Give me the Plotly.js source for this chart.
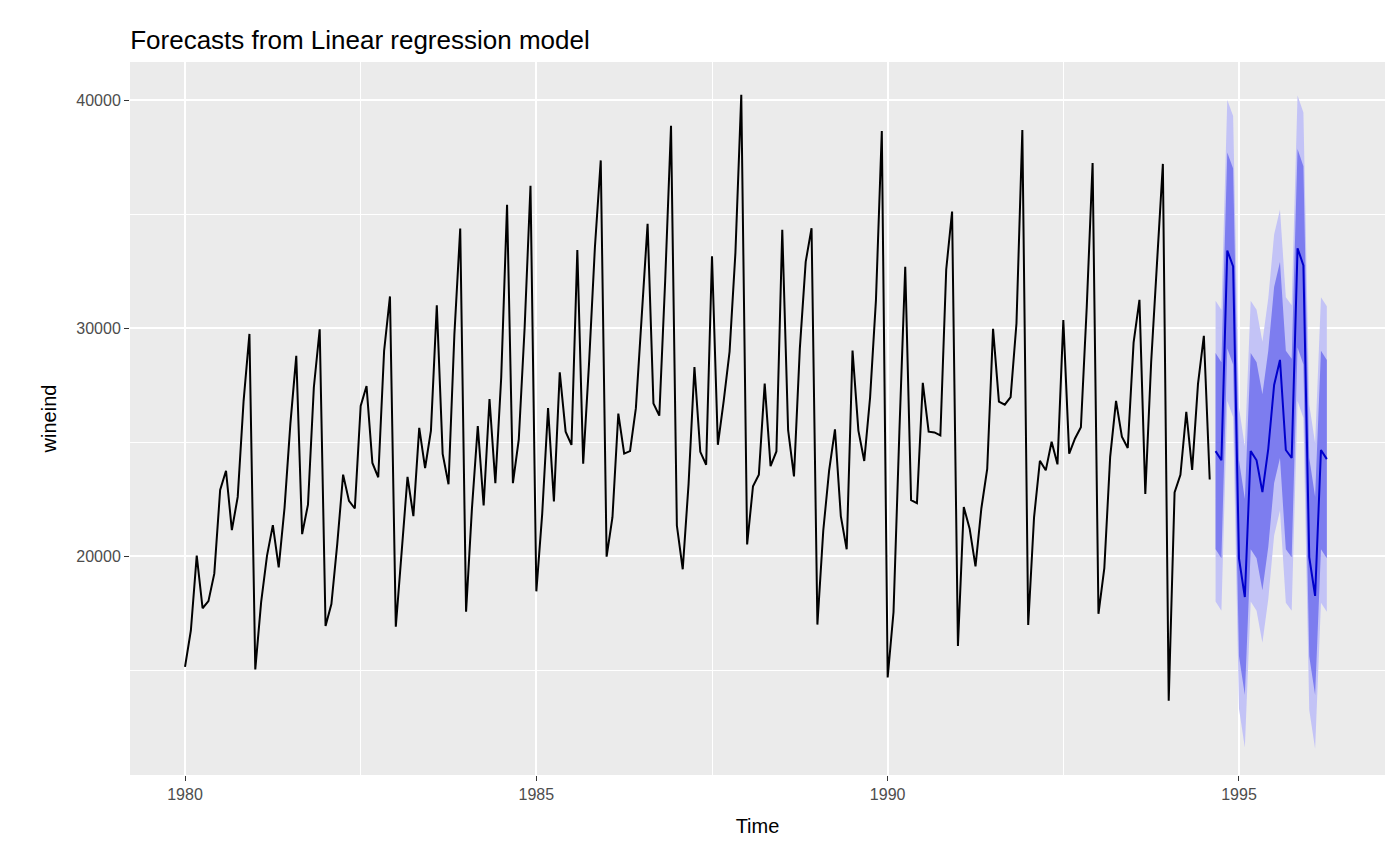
<!DOCTYPE html>
<html>
<head>
<meta charset="utf-8">
<script src="https://cdn.plot.ly/plotly-3.0.1.min.js"></script>
<style>html,body{margin:0;padding:0;background:#fff}#chart{width:1400px;height:866px}</style>
</head>
<body>
<div id="chart"></div>
<script>
// wineind, monthly, Jan 1980 – Aug 1994
const START_YEAR = 1980;
const wineind = [
  15136,16733,20016,17708,18019,19227,22893,23739,21133,22591,26786,29740,
  15028,17977,20008,21354,19498,22125,25817,28779,20960,22254,27392,29945,
  16933,17892,20533,23569,22417,22084,26580,27454,24081,23451,28991,31386,
  16896,20045,23471,21747,25621,23859,25500,30998,24475,23145,29701,34365,
  17556,22077,25702,22214,26886,23191,27831,35406,23195,25110,30009,36242,
  18450,21845,26488,22394,28057,25451,24872,33424,24052,28449,33533,37351,
  19969,21701,26249,24493,24603,26485,30723,34569,26689,26157,32064,38870,
  21337,19419,23166,28286,24570,24001,33151,24878,26804,28967,33311,40226,
  20504,23060,23562,27562,23940,24584,34303,25517,23494,29095,32903,34379,
  16991,21109,23740,25552,21752,20294,29009,25500,24166,26960,31222,38641,
  14672,17543,25453,32683,22449,22316,27595,25451,25421,25288,32568,35110,
  16052,22146,21198,19543,22084,23816,29961,26773,26635,26972,30207,38687,
  16974,21697,24179,23757,25013,24019,30345,24488,25156,25650,30923,37240,
  17466,19463,24352,26805,25236,24735,29356,31234,22724,28496,32857,37198,
  13652,22784,23565,26323,23779,27549,29660,23356
];

// forecasts Sep 1994 – Apr 1996
const fcMean = [24600,24200,33400,32700,19900,18200,24600,24200,22800,24700,27500,28600,
                24650,24300,33500,32750,19950,18250,24650,24250];
const fcLo80 = [20300,19900,29100,28400,15600,13900,20300,19900,18500,20400,23200,24300,
                20300,19950,29150,28400,15600,13900,20300,19900];
const fcHi80 = [28900,28500,37700,37000,24200,22500,28900,28500,27100,29000,31800,32900,
                29000,28650,37850,37100,24300,22600,29000,28600];
const fcLo95 = [18000,17600,26800,26100,13300,11600,18000,17600,16200,18100,20900,22000,
                17950,17600,26800,26050,13250,11550,17950,17550];
const fcHi95 = [31200,30800,40000,39300,26500,24800,31200,30800,29400,31300,34100,35200,
                31350,31000,40200,39450,26650,24950,31350,30950];

const tHist = wineind.map((_, i) => START_YEAR + i / 12);
const tFc = fcMean.map((_, i) => START_YEAR + (wineind.length + i) / 12);

const traces = [
  { x: tFc, y: fcLo95, mode: 'lines', line: { width: 0 }, hoverinfo: 'skip' },
  { x: tFc, y: fcHi95, mode: 'lines', line: { width: 0 }, fill: 'tonexty', fillcolor: '#c3c3f6' },
  { x: tFc, y: fcLo80, mode: 'lines', line: { width: 0 }, hoverinfo: 'skip' },
  { x: tFc, y: fcHi80, mode: 'lines', line: { width: 0 }, fill: 'tonexty', fillcolor: '#7d7def' },
  { x: tHist, y: wineind, mode: 'lines', line: { color: '#000000', width: 2 } },
  { x: tFc, y: fcMean, mode: 'lines', line: { color: '#0000cc', width: 2 } }
];

const axisCommon = {
  showgrid: true, gridcolor: '#ffffff', gridwidth: 2,
  zeroline: false, showline: false,
  ticks: 'outside', ticklen: 5, tickcolor: '#333333', tickwidth: 1,
  tickfont: { family: 'Liberation Sans, Arial, sans-serif', size: 16, color: '#4d4d4d' }
};

const layout = {
  width: 1400, height: 866,
  paper_bgcolor: '#ffffff', plot_bgcolor: '#ebebeb',
  showlegend: false,
  margin: { l: 130, r: 15, t: 62, b: 91 },
  font: { family: 'Liberation Sans, Arial, sans-serif', color: '#000' },
  title: { text: 'Forecasts from Linear regression model', x: 0.093, xanchor: 'left',
           yref: 'container', y: 0.965, yanchor: 'top',
           font: { size: 26, color: '#000' } },
  xaxis: Object.assign({}, axisCommon, {
    range: [1979.217, 1997.078], tickvals: [1980, 1985, 1990, 1995], tickformat: 'd',
    minor: { showgrid: true, gridcolor: '#ffffff', gridwidth: 1, tickvals: [1982.5, 1987.5, 1992.5], ticklen: 0 },
    title: { text: 'Time', standoff: 16, font: { size: 20, color: '#000' } }
  }),
  yaxis: Object.assign({}, axisCommon, {
    range: [10395, 41667], tickvals: [20000, 30000, 40000], tickformat: 'd',
    minor: { showgrid: true, gridcolor: '#ffffff', gridwidth: 1, tickvals: [15000, 25000, 35000], ticklen: 0 },
    title: { text: 'wineind', standoff: 14, font: { size: 20, color: '#000' } }
  })
};

Plotly.newPlot('chart', traces, layout, { displayModeBar: false, staticPlot: true });
</script>
</body>
</html>
